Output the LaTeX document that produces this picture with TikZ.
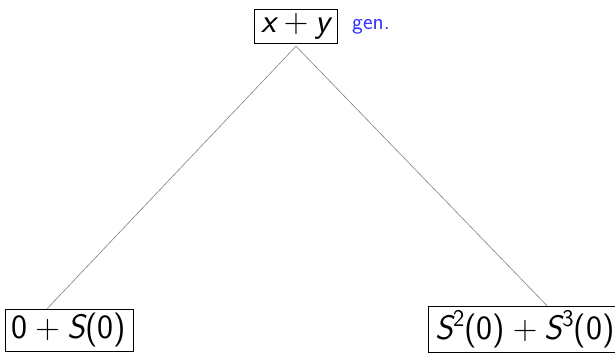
\documentclass[tikz,border=0pt]{standalone}
\usepackage{fontspec}
\usepackage{tikz}
\usetikzlibrary{positioning,calc}
\definecolor{genblue}{RGB}{51,51,255}
\newcommand\vr[1]{{\slshape #1}}
\newcommand\pl{\hspace{0.22em}{\rmfamily +}\hspace{0.22em}}
\newcommand\sq[1]{\raisebox{0.4em}{\fontsize{24}{28}\selectfont #1}}

\begin{document}
\begin{tikzpicture}[x=1pt,y=-1pt,
every node/.style={draw,inner xsep=7pt,inner ysep=4pt,font=\fontsize{34}{41}\selectfont\sffamily}]
\useasboundingbox (0,0) rectangle (615,354);
\node (T) at (296,26) {\vr{x}\pl\vr{y}};
\node[draw=none,text=genblue,font=\fontsize{23}{28}\selectfont\sffamily] (G) at (371,27) {gen.};
\node (L) at (69,330) {0\pl\vr{S}(0)};
\node (R) at (525,329) {\vr{S}\sq{2}(0)\pl\vr{S}\sq{3}(0)};
\draw[gray,line width=0.6pt] ([yshift=-3pt]T.south) -- ([xshift=-22pt]L.north);
\draw[gray,line width=0.6pt] ([yshift=-3pt]T.south) -- ([xshift=22pt]R.north);
\end{tikzpicture}
\end{document}
